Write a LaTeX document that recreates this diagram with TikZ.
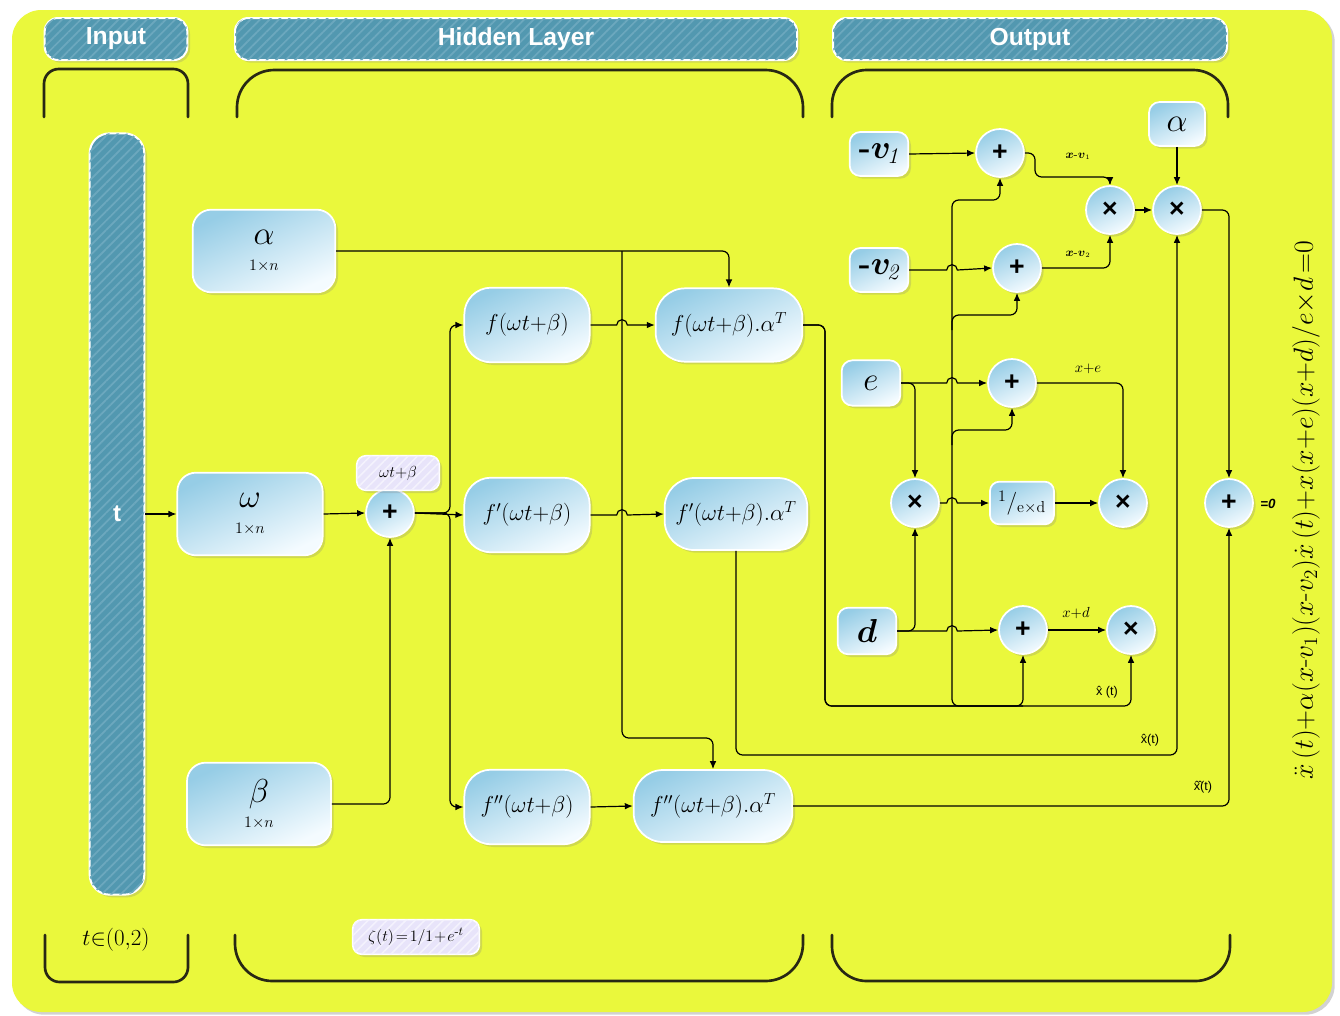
\documentclass[tikz,border=0pt]{standalone}
\usepackage{amsmath}
\usepackage{fontspec}
\setsansfont{Liberation Sans}
\usetikzlibrary{shadows,patterns,patterns.meta,arrows.meta,calc}
\definecolor{bgy}{RGB}{234,248,60}
\definecolor{hdr}{RGB}{82,152,176}
\definecolor{hdrl}{RGB}{108,168,190}
\definecolor{bl}{RGB}{150,205,230}
\definecolor{wh}{RGB}{244,251,255}
\definecolor{lav}{RGB}{232,228,250}
\definecolor{lavl}{RGB}{244,242,253}
\definecolor{brk}{RGB}{40,40,20}
\newcommand\myfs[1]{\fontsize{#1}{#1}\selectfont}
\begin{document}
\begin{tikzpicture}[x=0.75pt,y=-0.75pt,
  arr/.style={-{Latex[length=6pt,width=5pt]}, line width=0.9pt},
  ln/.style={line width=0.9pt},
  rc/.style={rounded corners=5pt},
  sh/.style={drop shadow={opacity=0.25,shadow xshift=2pt,shadow yshift=-2pt}},
  hdrbar/.style={draw=white, line width=1.5pt, rounded corners=10pt, fill=hdr,
     postaction={pattern={Lines[angle=45,distance=5pt,line width=1.3pt]}, pattern color=hdrl}, sh, text=white,
     font=\sffamily\bfseries, inner sep=0pt},
  labbox/.style={draw=white, line width=1.2pt, rounded corners=7pt, fill=lav,
     postaction={pattern={Lines[angle=45,distance=5pt,line width=1.2pt]}, pattern color=lavl}, sh, inner sep=0pt},
  bbox/.style={draw=white, line width=1.3pt, top color=bl, bottom color=wh, shading angle=25,
     sh, inner sep=0pt, align=center},
  circ/.style={bbox, circle, minimum size=36pt, font=\sffamily\bfseries\myfs{20}},
  brack/.style={draw=brk, line width=2pt, line cap=round},
  small/.style={inner sep=1pt}
]
\useasboundingbox (0,0) rectangle (1340,1015);
\fill[white] (0,0) rectangle (1340,1015);
\fill[bgy, rounded corners=22pt, drop shadow={opacity=0.35,shadow xshift=2pt,shadow yshift=-2pt}] (12,10) rectangle (1332,1012);

% headers
\node[hdrbar, minimum width=107pt, minimum height=31.5pt] (hin) at (116,39) {\myfs{18.5}Input};
\node[hdrbar, minimum width=421.5pt, minimum height=31.5pt] (hhid) at (516,39) {\myfs{18.5}Hidden Layer};
\node[hdrbar, minimum width=295.5pt, minimum height=31.5pt] (hout) at (1030,39) {\myfs{18.5}Output};

% brackets
\draw[brack, rounded corners=11pt] (44,117) -- (44,69) -- (188,69) -- (188,117);
\draw[brack, rounded corners=28pt] (237,117) -- (237,70) -- (803,70) -- (803,117);
\draw[brack, rounded corners=26pt] (832,117) -- (832,70) -- (1228,70) -- (1228,117);
\draw[brack, rounded corners=11pt] (45,935) -- (45,982) -- (188,982) -- (188,935);
\draw[brack, rounded corners=28pt] (235,935) -- (235,981) -- (803,981) -- (803,935);
\draw[brack, rounded corners=26pt] (832,935) -- (832,981) -- (1230,981) -- (1230,935);

% input bar
\node[hdrbar, rounded corners=15pt, minimum width=41pt, minimum height=571pt] (tbar) at (117,514) {\myfs{18}t};
\node[small] (trange) at (116,940) {\myfs{16}$t{\in}(0{,}2)$};

% hidden nodes
\node[bbox, rounded corners=14pt, minimum width=107pt, minimum height=62pt] (alpha) at (264,251)
  {\myfs{26}$\alpha$\\[7pt]\myfs{13}$1{\times}n$};
\node[bbox, rounded corners=14pt, minimum width=109pt, minimum height=62pt] (omega) at (250,514)
  {\myfs{26}$\omega$\\[7pt]\myfs{13}$1{\times}n$};
\node[bbox, rounded corners=14pt, minimum width=108pt, minimum height=62pt] (beta) at (259,804)
  {\myfs{26}$\beta$\\[5pt]\myfs{13}$1{\times}n$};
\node[circ] (p1) at (390,513) {+};
\node[labbox, minimum width=62pt, minimum height=26pt] (wtb) at (398,473) {\myfs{13}$\omega t{+}\beta$};
\node[labbox, minimum width=95pt, minimum height=26pt] (zeta) at (416,937) {\myfs{13}$\zeta(t)\!=\!1/1\!+\!e^{\text{-}t}$};

\node[bbox, rounded corners=20pt, minimum width=94pt, minimum height=56pt] (f1) at (527,325) {\myfs{18}$f(\omega t{+}\beta)$};
\node[bbox, rounded corners=20pt, minimum width=94pt, minimum height=56pt] (f2) at (527,515) {\myfs{18}$f'(\omega t{+}\beta)$};
\node[bbox, rounded corners=20pt, minimum width=94pt, minimum height=56pt] (f3) at (527,807) {\myfs{18}$f''(\omega t{+}\beta)$};
\node[bbox, rounded corners=22pt, minimum width=110pt, minimum height=55pt] (fa1) at (729,325) {\myfs{18}$f(\omega t{+}\beta).\alpha^T$};
\node[bbox, rounded corners=22pt, minimum width=107pt, minimum height=54pt] (fa2) at (736,514) {\myfs{18}$f'(\omega t{+}\beta).\alpha^T$};
\node[bbox, rounded corners=22pt, minimum width=119pt, minimum height=54pt] (fa3) at (713,806) {\myfs{18}$f''(\omega t{+}\beta).\alpha^T$};

% output nodes
\node[bbox, rounded corners=8pt, minimum width=44pt, minimum height=33pt] (v1) at (879,154) {\myfs{24}\textbf{-}$\boldsymbol{v}_{\!\mathit{1}}$};
\node[bbox, rounded corners=8pt, minimum width=44pt, minimum height=33pt] (v2) at (879,270) {\myfs{24}\textbf{-}$\boldsymbol{v}_{\!\mathit{2}}$};
\node[bbox, rounded corners=8pt, minimum width=44pt, minimum height=34pt] (ee) at (871,383) {\myfs{30}$e$};
\node[bbox, rounded corners=8pt, minimum width=44pt, minimum height=35pt] (dd) at (867,631) {\myfs{30}$\boldsymbol{d}$};
\node[bbox, rounded corners=8pt, minimum width=42pt, minimum height=33pt] (a2) at (1177,124) {\myfs{24}$\alpha$};
\node[bbox, rounded corners=7pt, minimum width=48pt, minimum height=32pt] (inv) at (1022,503) {\myfs{17}$^{1}/_{\mathrm{e}\times\mathrm{d}}$};

\node[circ] (pv1) at (1000,153) {+};
\node[circ] (pv2) at (1017,268) {+};
\node[circ] (pe) at (1012,383) {+};
\node[circ] (pd) at (1023,630) {+};
\node[circ] (x1) at (1110,210) {×};
\node[circ] (x2) at (1177,210) {×};
\node[circ] (x3) at (915,503) {×};
\node[circ] (x4) at (1123,503) {×};
\node[circ] (x5) at (1131,630) {×};
\node[circ] (pf) at (1229,503) {+};

% bus coordinates
\coordinate (busB) at (622,251);
\coordinate (busA) at (450,513);
\coordinate (xb) at (825,706);
\coordinate (bus) at (952,706);

% hidden layer connectors
\draw[arr] (tbar.east |- omega) -- (omega);
\draw[arr] (omega.east) -- (p1.west);
\draw[arr, rc] (beta.east) -| (p1.south);
\draw[arr] (p1.east) -- (f2.west);
\draw[arr, rc] (p1.east) -- (busA) |- (f1.west);
\draw[arr, rc] (p1.east) -- (busA) |- (f3.west);
\draw[arr, rc] (alpha.east) -| (fa1.north);
\draw[arr, rc] (busB) -- (622,738) -| (fa3.north);
\draw[arr] (f1.east) -- ([xshift=-4pt]busB |- f1.east) arc[start angle=180,end angle=0,radius=4pt] -- (fa1.west);
\draw[arr] (f2.east) -- ([xshift=-4pt]busB |- f2.east) arc[start angle=180,end angle=0,radius=4pt] -- (fa2.west);
\draw[arr] (f3.east) -- (fa3.west);

% x(t) feedback
\draw[arr, rc] (fa1.east) -| (xb) -| (pd.south);
\draw[arr, rc] (fa1.east) -| (xb) -| (x5.south);
\draw[arr, rc] (pd.south |- xb) -- (bus) -- (952,200) -| (pv1.south);
\draw[arr, rc] (952,330) -- (952,315) -| (pv2.south);
\draw[arr, rc] (952,445) -- (952,430) -| (pe.south);
\node[small, font=\sffamily\myfs{9.5}] (lx1) at (1107,692) {\^{x} (t)};

\draw[arr, rc] (fa2.south) -- (fa2.south |- 0,755) -| (x2.south);
\node[small, font=\sffamily\myfs{9.5}] (lx2) at (1150,740) {\^{x}(t)};
\draw[arr, rc] (fa3.east) -| (pf.south);
\node[small, font=\sffamily\myfs{9.5}] (lx3) at (1203,787) {x^^^^0302^^^^0302(t)};

% output connectors
\draw[arr] (v1.east) -- (pv1.west);
\draw[arr, rc] (pv1.east) -- (1035,153) -- (1035,177) -| (x1.north);
\node[small] (lv1) at (1078,156) {\myfs{9}$\boldsymbol{x\text{-}v}_{\scriptscriptstyle 1}$};
\draw[arr] (v2.east) -- ([xshift=-4pt]bus |- v2.east) arc[start angle=180,end angle=0,radius=4pt] -- (pv2.west);
\draw[arr, rc] (pv2.east) -| (x1.south);
\node[small] (lv2) at (1078,254) {\myfs{9}$\boldsymbol{x\text{-}v}_{\scriptscriptstyle 2}$};
\draw[arr] (x1.east) -- (x2.west);
\draw[arr] (a2.south) -- (x2.north);
\draw[arr, rc] (x2.east) -| (pf.north);

\draw[arr] (ee.east) -- ([xshift=-4pt]bus |- ee.east) arc[start angle=180,end angle=0,radius=4pt] -- (pe.west);
\draw[arr, rc] (ee.east) -| (x3.north);
\draw[arr, rc] (pe.east) -| (x4.north);
\node[small] (le) at (1088,369) {\myfs{11}$x{+}e$};
\draw[arr] (x3.east) -- ([xshift=-4pt]bus |- x3.east) arc[start angle=180,end angle=0,radius=4pt] -- (inv.west);
\draw[arr] (inv.east) -- (x4.west);

\draw[arr, rc] (dd.east) -| (x3.south);
\draw[arr] (dd.east) -- ([xshift=-4pt]bus |- dd.east) arc[start angle=180,end angle=0,radius=4pt] -- (pd.west);
\draw[arr] (pd.east) -- (x5.west);
\node[small] (ld) at (1076,613) {\myfs{11}$x{+}d$};

\node[small, font=\sffamily\bfseries\itshape\myfs{10}] (eq0) at (1268,504) {=0};

\node[small, rotate=90] (eqn) at (1306,510) {\myfs{21}$\ddot{x}\,(t){+}\alpha(x\text{-}v_1)(x\text{-}v_2)\dot{x}\,(t){+}x(x{+}e)(x{+}d)/e{\times}d\,{=}0$};
\end{tikzpicture}
\end{document}
